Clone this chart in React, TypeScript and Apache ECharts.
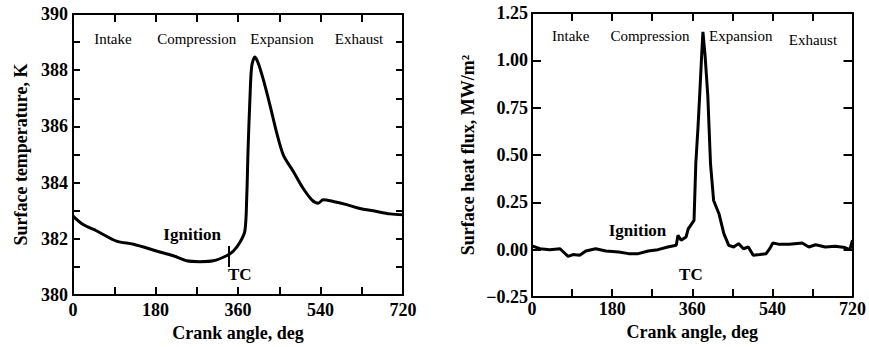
import React, { useEffect, useRef } from 'react';
import * as echarts from 'echarts';

// Left panel: surface temperature (K) vs crank angle (deg)
const tempAngles = [0, 22, 52, 95, 132, 182, 219, 248, 277, 306, 335, 350, 364, 375, 379, 382, 386, 390, 397, 404, 415, 430, 444, 459, 481, 502, 521, 535, 546, 568, 597, 626, 655, 692, 720];
const tempValues = [382.81, 382.51, 382.28, 381.92, 381.81, 381.57, 381.4, 381.22, 381.19, 381.22, 381.4, 381.57, 381.87, 382.28, 383.45, 385.2, 386.97, 388.15, 388.47, 388.26, 387.68, 386.74, 385.8, 384.98, 384.39, 383.8, 383.39, 383.27, 383.39, 383.33, 383.22, 383.08, 383.0, 382.89, 382.86];

// Right panel: surface heat flux (MW/m2) vs crank angle (deg)
const fluxAngles = [0, 18, 40, 63, 81, 92, 107, 121, 143, 166, 195, 217, 239, 261, 283, 305, 324, 328, 335, 346, 351, 364, 368, 373, 377, 381, 384, 389, 395, 401, 408, 420, 431, 442, 453, 464, 475, 486, 497, 512, 526, 534, 541, 556, 578, 607, 622, 637, 659, 681, 703, 714, 720];
const fluxValues = [0.02, 0.005, 0.0, 0.005, -0.035, -0.026, -0.03, -0.007, 0.005, -0.007, -0.012, -0.021, -0.021, -0.007, 0.0, 0.014, 0.023, 0.076, 0.05, 0.067, 0.11, 0.155, 0.455, 0.65, 0.83, 1.02, 1.15, 1.02, 0.81, 0.455, 0.26, 0.19, 0.085, 0.023, 0.014, 0.032, 0.005, 0.014, -0.03, -0.026, -0.021, 0.005, 0.035, 0.028, 0.028, 0.035, 0.014, 0.026, 0.014, 0.018, 0.011, 0.0, 0.05];

const strokeNames = ['Intake', 'Compression', 'Expansion', 'Exhaust'];
const strokeAnglesLeft = [87, 270, 456, 624];
const strokeAnglesRight = [87, 265, 469, 631];
const strokeYLeft = [389.1, 389.1, 389.1, 389.1];
const strokeYRight = [1.13, 1.13, 1.13, 1.11];

const ignitionLeft = [260, 382.15];
const tcLeft = [364, 380.74];
const tcMarkLeft = [340, 381.0, 381.75];
const ignitionRight = [237, 0.1];
const tcRight = [357, -0.13];

const FONT = 'Liberation Serif';

export default function App() {
  const ref = useRef<HTMLDivElement>(null);
  useEffect(() => {
    document.body.style.margin = '0';
    const chart = echarts.init(ref.current!, null, { renderer: 'svg' });
    const axisLine = { show: true, onZero: false, lineStyle: { color: '#000', width: 2 } };
    const tickLabel = { color: '#000', fontFamily: FONT, fontWeight: 'bold' as const, fontSize: 18 };
    const nameStyle = { color: '#000', fontFamily: FONT, fontWeight: 'bold' as const, fontSize: 18 };
    const tickStyle = { color: '#000', width: 2 };

    const xAxisMain = (gridIndex: number, gap: number, margin: number) => ({
      type: 'value', gridIndex, min: 0, max: 720, interval: 180,
      axisLine, axisTick: { show: true, inside: true, length: 8, lineStyle: tickStyle },
      minorTick: { show: true, splitNumber: 2, length: 8, lineStyle: tickStyle },
      splitLine: { show: false }, minorSplitLine: { show: false },
      axisLabel: { ...tickLabel, margin },
      name: 'Crank angle, deg', nameLocation: 'middle', nameGap: gap, nameTextStyle: nameStyle,
    });
    const xAxisTop = (gridIndex: number) => ({
      type: 'value', gridIndex, position: 'top', min: 0, max: 720, interval: 180,
      axisLine, axisTick: { show: true, inside: true, length: 8, lineStyle: tickStyle },
      minorTick: { show: true, splitNumber: 2, length: 8, lineStyle: tickStyle },
      splitLine: { show: false }, axisLabel: { show: false },
    });

    const mp = (items: { coord: number[]; value: string }[], size: number, weight: string) => ({
      symbol: 'circle', symbolSize: 0, silent: true,
      label: {
        show: true, position: 'inside', color: '#000', fontFamily: FONT, fontSize: size, fontWeight: weight,
        formatter: (p: any) => p.value,
      },
      itemStyle: { color: 'transparent' },
      data: items.map((d) => ({ coord: d.coord, value: d.value })),
    });

    chart.setOption({
      animation: false,
      grid: [
        { left: 73, top: 14, width: 330, height: 284 },
        { left: 532, top: 13, width: 326, height: 284 },
      ],
      xAxis: [xAxisMain(0, 23, 6), xAxisTop(0), xAxisMain(1, 14, 3), xAxisTop(1)],
      yAxis: [
        {
          type: 'value', gridIndex: 0, min: 380, max: 390, interval: 2,
          axisLine, axisTick: { show: true, inside: true, length: 7, lineStyle: tickStyle },
          minorTick: { show: true, splitNumber: 2, length: 7, lineStyle: tickStyle },
          splitLine: { show: false }, axisLabel: { ...tickLabel, margin: 5 },
          name: 'Surface temperature, K', nameLocation: 'middle', nameGap: 43, nameTextStyle: nameStyle,
        },
        {
          type: 'value', gridIndex: 0, position: 'right', min: 380, max: 390, interval: 2,
          axisLine, axisTick: { show: true, inside: true, length: 7, lineStyle: tickStyle },
          minorTick: { show: true, splitNumber: 2, length: 7, lineStyle: tickStyle },
          splitLine: { show: false }, axisLabel: { show: false },
        },
        {
          type: 'value', gridIndex: 1, min: -0.25, max: 1.25, interval: 0.25,
          axisLine, axisTick: { show: true, inside: true, length: 9, lineStyle: tickStyle },
          splitLine: { show: false },
          axisLabel: { ...tickLabel, margin: 4, formatter: (v: number) => v.toFixed(2).replace('-', '\u2212') },
          name: 'Surface heat flux, MW/m\u00B2', nameLocation: 'middle', nameGap: 55, nameTextStyle: nameStyle,
        },
        {
          type: 'value', gridIndex: 1, position: 'right', min: -0.25, max: 1.25, interval: 0.25,
          axisLine, axisTick: { show: true, inside: true, length: 9, lineStyle: tickStyle },
          splitLine: { show: false }, axisLabel: { show: false },
        },
      ],
      series: [
        {
          type: 'line', xAxisIndex: 0, yAxisIndex: 0, symbol: 'none', smooth: 0.3,
          lineStyle: { color: '#000', width: 3 },
          data: tempAngles.map((a, i) => [a, tempValues[i]]),
          markPoint: mp(
            strokeNames.map((n, i) => ({ coord: [strokeAnglesLeft[i], strokeYLeft[i]], value: n })),
            15, 'normal'
          ),
          markLine: {
            symbol: 'none', silent: true, label: { show: false },
            lineStyle: { color: '#000', width: 2, type: 'solid' },
            data: [[{ coord: [tcMarkLeft[0], tcMarkLeft[1]] }, { coord: [tcMarkLeft[0], tcMarkLeft[2]] }]],
          },
        },
        {
          type: 'line', xAxisIndex: 0, yAxisIndex: 0, data: [], symbol: 'none',
          markPoint: mp(
            [
              { coord: ignitionLeft, value: 'Ignition' },
              { coord: tcLeft, value: 'TC' },
            ],
            17, 'bold'
          ),
        },
        {
          type: 'line', xAxisIndex: 2, yAxisIndex: 2, symbol: 'none',
          lineStyle: { color: '#000', width: 3 },
          data: fluxAngles.map((a, i) => [a, fluxValues[i]]),
          markPoint: mp(
            strokeNames.map((n, i) => ({ coord: [strokeAnglesRight[i], strokeYRight[i]], value: n })),
            15, 'normal'
          ),
        },
        {
          type: 'line', xAxisIndex: 2, yAxisIndex: 2, data: [], symbol: 'none',
          markPoint: mp(
            [
              { coord: ignitionRight, value: 'Ignition' },
              { coord: tcRight, value: 'TC' },
            ],
            17, 'bold'
          ),
        },
      ],
    });
    return () => chart.dispose();
  }, []);
  return <div ref={ref} style={{ width: 869, height: 347 }} />;
}
